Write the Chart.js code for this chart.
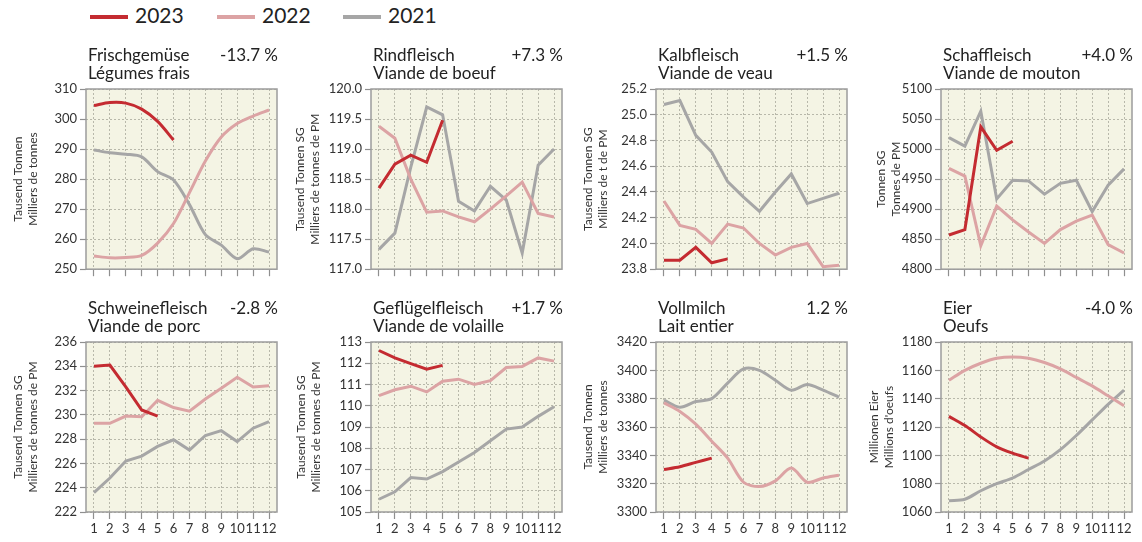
<!DOCTYPE html>
<html>
<head>
<meta charset="utf-8">
<script src="https://cdn.jsdelivr.net/npm/chart.js@4.4.0/dist/chart.umd.min.js"></script>
<style>
  body { margin: 0; background: #fff; width: 1142px; height: 542px; position: relative; overflow: hidden; font-family: Lato, sans-serif; }
  .panel { position: absolute; width: 285px; }
  .leg { position: absolute; top: 2px; font-size: 21px; color: #222; line-height: 26px; white-space: nowrap; }
  .leg i { display: inline-block; width: 38px; height: 4px; margin-right: 7px; vertical-align: middle; position: relative; top: -1px; }
</style>
</head>
<body>
<div class="leg" style="left:90px"><i style="background:#c42b31"></i>2023</div>
<div class="leg" style="left:217px"><i style="background:#dca3a4"></i>2022</div>
<div class="leg" style="left:343px"><i style="background:#a6a6a6"></i>2021</div>

<script>
const months = ['1', '2', '3', '4', '5', '6', '7', '8', '9', '10', '11', '12'];

// Frischgemüse
const veg2023 = [304.5, 305.5, 305.3, 303.3, 299.2, 293.0];
const veg2022 = [254.4, 253.8, 253.9, 254.6, 258.7, 265.2, 275.5, 286, 294, 298.5, 301, 303];
const veg2021 = [289.7, 288.8, 288.3, 287.4, 282.5, 279.7, 271.5, 261.5, 258, 253.5, 256.8, 255.7];
// Rindfleisch
const beef2023 = [118.35, 118.75, 118.9, 118.78, 119.48];
const beef2022 = [119.38, 119.18, 118.5, 117.95, 117.97, 117.87, 117.79, 118.0, 118.22, 118.45, 117.93, 117.87];
const beef2021 = [117.33, 117.6, 118.7, 119.7, 119.57, 118.13, 117.97, 118.38, 118.15, 117.27, 118.73, 119.0];
// Kalbfleisch
const veal2023 = [23.87, 23.87, 23.97, 23.85, 23.88];
const veal2022 = [24.33, 24.14, 24.11, 24.0, 24.15, 24.12, 24.0, 23.91, 23.97, 24.0, 23.82, 23.83];
const veal2021 = [25.08, 25.11, 24.84, 24.71, 24.48, 24.36, 24.25, 24.4, 24.54, 24.31, 24.35, 24.39];
// Schaffleisch
const mutton2023 = [4857, 4866, 5037, 4998, 5013];
const mutton2022 = [4968, 4955, 4839, 4905, 4882, 4862, 4843, 4866, 4880, 4890, 4841, 4827];
const mutton2021 = [5019, 5005, 5063, 4917, 4948, 4947, 4925, 4943, 4948, 4896, 4940, 4967];
// Schweinefleisch
const pork2023 = [234.0, 234.1, 232.3, 230.4, 229.9];
const pork2022 = [229.3, 229.3, 229.9, 229.85, 231.2, 230.6, 230.3, 231.3, 232.2, 233.1, 232.3, 232.4];
const pork2021 = [223.6, 224.8, 226.2, 226.6, 227.4, 227.95, 227.1, 228.3, 228.7, 227.8, 228.9, 229.45];
// Geflügelfleisch
const poultry2023 = [112.6, 112.25, 111.98, 111.72, 111.9];
const poultry2022 = [110.48, 110.75, 110.92, 110.65, 111.15, 111.25, 111.0, 111.18, 111.8, 111.85, 112.25, 112.1];
const poultry2021 = [105.6, 105.95, 106.62, 106.55, 106.9, 107.35, 107.8, 108.35, 108.9, 109.0, 109.5, 109.95];
// Vollmilch
const milk2023 = [3330, 3332, 3335, 3338];
const milk2022 = [3377, 3371, 3362, 3350, 3338, 3321, 3318, 3322, 3331, 3321, 3324, 3326];
const milk2021 = [3379, 3374, 3378, 3380, 3391, 3401, 3400, 3393, 3386, 3390, 3386, 3381];
// Eier
const eggs2023 = [1127.5, 1121, 1113, 1106, 1101.5, 1098];
const eggs2022 = [1153, 1160, 1165, 1168.5, 1169.5, 1168.5, 1165.5, 1161, 1155, 1149, 1142, 1135];
const eggs2021 = [1068, 1069, 1075, 1080, 1084, 1090, 1096, 1104, 1114, 1125, 1136, 1146];

const namesDe = ['Frischgemüse', 'Rindfleisch', 'Kalbfleisch', 'Schaffleisch', 'Schweinefleisch', 'Geflügelfleisch', 'Vollmilch', 'Eier'];
const namesFr = ['Légumes frais', 'Viande de boeuf', 'Viande de veau', 'Viande de mouton', 'Viande de porc', 'Viande de volaille', 'Lait entier', 'Oeufs'];
const changes = ['-13.7 %', '+7.3 %', '+1.5 %', '+4.0 %', '-2.8 %', '+1.7 %', '1.2 %', '-4.0 %'];
const unitsDe = ['Tausend Tonnen', 'Tausend Tonnen SG', 'Tausend Tonnen SG', 'Tonnen SG', 'Tausend Tonnen SG', 'Tausend Tonnen SG', 'Tausend Tonnen', 'Millionen Eier'];
const unitsFr = ['Milliers de tonnes', 'Milliers de tonnes de PM', 'Milliers de t de PM', 'Tonnes de PM', 'Milliers de tonnes de PM', 'Milliers de tonnes de PM', 'Milliers de tonnes', "Millions d'oeufs"];
const yMin = [250, 117, 23.8, 4800, 222, 105, 3300, 1060];
const yMax = [310, 120, 25.2, 5100, 236, 113, 3420, 1180];
const yStep = [10, 0.5, 0.2, 50, 2, 1, 20, 20];
const yDecimals = [0, 1, 1, 0, 0, 0, 0, 0];

const series = [
  [veg2023, veg2022, veg2021],
  [beef2023, beef2022, beef2021],
  [veal2023, veal2022, veal2021],
  [mutton2023, mutton2022, mutton2021],
  [pork2023, pork2022, pork2021],
  [poultry2023, poultry2022, poultry2021],
  [milk2023, milk2022, milk2021],
  [eggs2023, eggs2022, eggs2021]
];
const years = ['2023', '2022', '2021'];
const colors = ['#c42b31', '#dca3a4', '#a6a6a6'];
const smooth = [0.3, 0, 0, 0, 0, 0, 0.3, 0.3];
const titlePad = [10.5, 8, 10.5, 19, 10.5, 8.5, 10.5, 12];

const panelFrame = {
  id: 'panelFrame',
  beforeDraw(chart) {
    const { ctx, chartArea: a } = chart;
    ctx.save();
    ctx.fillStyle = '#f4f4e4';
    ctx.fillRect(a.left, a.top, a.width, a.height);
    ctx.restore();
  },
  beforeDatasetsDraw(chart) {
    const { ctx, chartArea: a } = chart;
    ctx.save();
    ctx.strokeStyle = '#9c9c9c';
    ctx.lineWidth = 1.5;
    ctx.strokeRect(a.left, a.top, a.width, a.height);
    ctx.restore();
  },
  afterDraw(chart, args, opts) {
    const { ctx, chartArea: a } = chart;
    ctx.save();
    ctx.font = '17px Lato';
    ctx.fillStyle = '#222';
    ctx.textBaseline = 'middle';
    ctx.textAlign = 'left';
    ctx.fillText(opts.de, a.left + 2, a.top - 33);
    ctx.fillText(opts.fr, a.left + 2, a.top - 15);
    ctx.textAlign = 'right';
    ctx.fillText(opts.change, a.right + 1, a.top - 33);
    ctx.restore();
  }
};

for (let i = 0; i < 8; i++) {
  const bottomRow = i >= 4;
  const div = document.createElement('div');
  div.className = 'panel';
  div.style.left = (i % 4) * 285 + 'px';
  div.style.top = bottomRow ? '280px' : '40px';
  const canvas = document.createElement('canvas');
  canvas.width = 285;
  canvas.height = bottomRow ? 262 : 240;
  div.appendChild(canvas);
  document.body.appendChild(div);

  new Chart(canvas, {
    type: 'line',
    data: {
      labels: months,
      datasets: series[i].map((d, k) => ({
        label: years[k],
        data: d,
        borderColor: colors[k],
        borderWidth: 3,
        pointRadius: 0,
        tension: smooth[i],
        fill: false
      }))
    },
    options: {
      responsive: false,
      animation: false,
      layout: { padding: { left: 0, right: 8, top: bottomRow ? 62 : 49, bottom: 0 } },
      plugins: {
        legend: { display: false },
        tooltip: { enabled: false },
        panelFrame: { de: namesDe[i], fr: namesFr[i], change: changes[i] }
      },
      scales: {
        x: {
          offset: true,
          grid: { color: '#b8b8aa', lineWidth: 1, tickLength: 7, tickColor: '#8f8f8f', tickWidth: 1.2 },
          border: { display: false, dash: [2, 2] },
          ticks: { display: bottomRow, color: '#333', font: { family: 'Lato', size: 13 }, padding: 2, maxRotation: 0, autoSkip: false },
          afterFit: s => { s.height = bottomRow ? 30 : 9; }
        },
        y: {
          min: yMin[i],
          max: yMax[i],
          ticks: {
            stepSize: yStep[i],
            color: '#333',
            font: { family: 'Lato', size: 13 },
            padding: 3,
            callback: v => Number(v).toFixed(yDecimals[i])
          },
          grid: { color: '#b8b8aa', lineWidth: 1, tickLength: 6, tickColor: '#8f8f8f', tickWidth: 1.2 },
          border: { display: false, dash: [2, 2] },
          title: {
            display: true,
            text: [unitsDe[i], unitsFr[i]],
            color: '#333',
            font: { family: 'Lato', size: 12, lineHeight: 1.25 },
            padding: { top: titlePad[i], bottom: 0 }
          },
          afterFit: s => { s.width = 86; }
        }
      }
    },
    plugins: [panelFrame]
  });
}
</script>
</body>
</html>
